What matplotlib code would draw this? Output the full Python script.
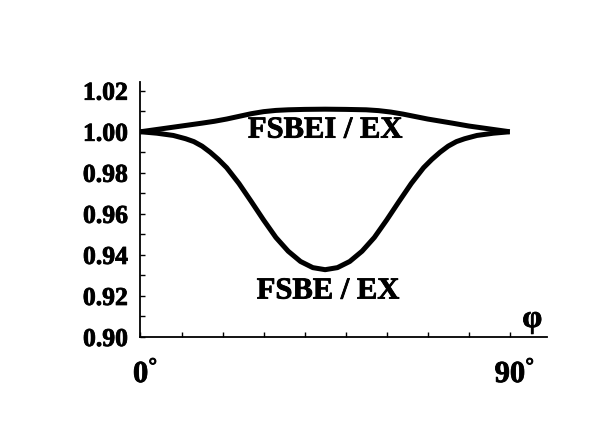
import matplotlib
matplotlib.use("Agg")
import matplotlib.pyplot as plt
import matplotlib.transforms as mtransforms
import matplotlib.patheffects as pe

plt.rcParams['font.family'] = ['Liberation Serif', 'DejaVu Serif']
plt.rcParams['font.weight'] = 'bold'
plt.rcParams['mathtext.fontset'] = 'custom'
plt.rcParams['mathtext.rm'] = 'Liberation Serif:bold'
plt.rcParams['mathtext.it'] = 'Liberation Serif:bold'
plt.rcParams['mathtext.bf'] = 'Liberation Serif:bold'

# FSBEI / EX ratio (upper curve)
phi_upper = [0, 5, 10, 15, 18, 21, 24, 27, 30, 33, 36, 40, 45, 50, 55, 58, 61,
             64, 67, 70, 73, 76, 80, 85, 90]
ratio_fsbei = [1.0000, 1.0014, 1.0028, 1.0042, 1.0051, 1.0062, 1.0075, 1.0088,
               1.0098, 1.0104, 1.0107, 1.0109, 1.0110, 1.0109, 1.0107, 1.0103,
               1.0096, 1.0086, 1.0074, 1.0062, 1.0052, 1.0042, 1.0028, 1.0014,
               1.0000]

# FSBE / EX ratio (lower curve)
phi_lower = [0, 4, 8, 11, 13, 15, 17, 19, 21, 24, 27, 30, 33, 36, 39, 42, 45,
             48, 51, 54, 57, 60, 63, 66, 69, 71, 73, 75, 77, 79, 82, 86, 90]
ratio_fsbe = [1.0000, 0.9993, 0.9982, 0.9966, 0.9952, 0.9930, 0.9900, 0.9865,
              0.9825, 0.9748, 0.9660, 0.9570, 0.9485, 0.9418, 0.9368, 0.9338,
              0.9328, 0.9338, 0.9368, 0.9418, 0.9485, 0.9570, 0.9660, 0.9748,
              0.9825, 0.9865, 0.9900, 0.9930, 0.9952, 0.9966, 0.9982, 0.9993,
              1.0000]

y_ticks = [0.90, 0.92, 0.94, 0.96, 0.98, 1.00, 1.02]
y_ticklabels = ["0.90", "0.92", "0.94", "0.96", "0.98", "1.00", "1.02"]
x_ticks = [0, 90]
x_ticklabels = [r"$0^{°}$", r"$90^{°}$"]
x_minor = [10, 20, 30, 40, 50, 60, 70, 80]

heavy = [pe.withStroke(linewidth=0.6, foreground='black')]

fig = plt.figure(figsize=(6.13, 4.23), dpi=100)
ax = fig.add_axes([0.2292, 0.2033, 0.8918 - 0.2292, 0.8069 - 0.2033])

ax.plot(phi_upper, ratio_fsbei, color='black', lw=3.6, solid_capstyle='butt')
ax.plot(phi_lower, ratio_fsbe, color='black', lw=3.6, solid_capstyle='butt')

ax.set_xlim(0, 99)
ax.set_ylim(0.90, 1.0244)

for s in ['top', 'right']:
    ax.spines[s].set_visible(False)
for s in ['left', 'bottom']:
    ax.spines[s].set_linewidth(1.3)

ax.set_yticks(y_ticks)
ax.set_yticklabels(y_ticklabels)
ax.set_yticks([0.91, 0.93, 0.95, 0.97, 0.99, 1.01], minor=True)
ax.set_xticks(x_ticks)
ax.set_xticklabels(x_ticklabels)
ax.set_xticks(x_minor, minor=True)

ax.tick_params(axis='y', which='both', direction='in', length=3.5, width=1,
               labelsize=18.5, pad=9)
ax.tick_params(axis='x', which='both', direction='in', length=3.5, width=1,
               labelsize=22, pad=16)
for lab in ax.get_yticklabels():
    lab.set_fontweight('bold')
    lab.set_path_effects(heavy)

offset = mtransforms.ScaledTranslation(5 / 100, 0, fig.dpi_scale_trans)
for lab in ax.get_xticklabels():
    lab.set_transform(lab.get_transform() + offset)
    lab.set_path_effects(heavy)

t1 = ax.text(45.0, 1.0008, "FSBEI / EX", ha='center', va='center', fontsize=22,
             fontweight='bold')
t2 = ax.text(45.7, 0.9224, "FSBE / EX", ha='center', va='center', fontsize=22,
             fontweight='bold')
t3 = ax.text(95.5, 0.9085, "φ", ha='center', va='center', fontsize=23,
             fontweight='bold')
for t in (t1, t2, t3):
    t.set_path_effects(heavy)

fig.savefig("out.png", dpi=100)
